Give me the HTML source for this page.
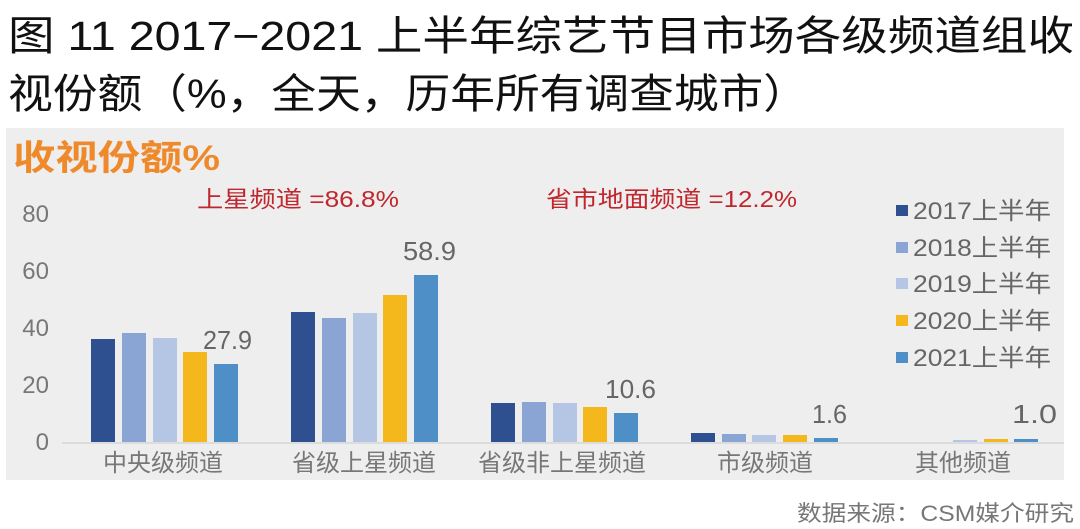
<!DOCTYPE html>
<html><head><meta charset="utf-8"><style>
html,body{margin:0;padding:0;background:#fff;}
svg{display:block;}
</style></head><body>
<svg width="1080" height="529" viewBox="0 0 1080 529" xmlns="http://www.w3.org/2000/svg" font-family="Liberation Sans, Noto Sans CJK SC, sans-serif">
<rect width="1080" height="529" fill="#fff"/>
<text x="8" y="50" font-size="41" fill="#111" textLength="1066" lengthAdjust="spacingAndGlyphs">图 11 2017−2021 上半年综艺节目市场各级频道组收</text>
<text x="8" y="108" font-size="41" fill="#111" textLength="800" lengthAdjust="spacingAndGlyphs">视份额（%，全天，历年所有调查城市）</text>
<rect x="6" y="128" width="1058" height="352" fill="#eeeeef"/>
<text x="13" y="170" font-size="35" font-weight="bold" fill="#ef8a2c" textLength="207" lengthAdjust="spacingAndGlyphs">收视份额%</text>
<text x="197" y="207" font-size="23" fill="#c0272d" textLength="202" lengthAdjust="spacingAndGlyphs">上星频道 =86.8%</text>
<text x="546" y="207" font-size="23" fill="#c0272d" textLength="251" lengthAdjust="spacingAndGlyphs">省市地面频道 =12.2%</text>
<g font-size="24" fill="#777" text-anchor="end">
<text x="49" y="222">80</text><text x="49" y="279">60</text><text x="49" y="336">40</text><text x="49" y="393">20</text><text x="49" y="450">0</text>
</g>
<line x1="62" y1="443" x2="1064" y2="443" stroke="#dcdcdc" stroke-width="2"/>
<g>
<rect x="91" y="339" width="24" height="103" fill="#2e5090"/>
<rect x="122" y="333" width="24" height="109" fill="#8aa5d3"/>
<rect x="153" y="338" width="24" height="104" fill="#b4c6e4"/>
<rect x="183" y="352" width="24" height="90" fill="#f4b81c"/>
<rect x="214" y="364" width="24" height="78" fill="#4f8fc8"/>

<rect x="291" y="312" width="24" height="130" fill="#2e5090"/>
<rect x="322" y="318" width="24" height="124" fill="#8aa5d3"/>
<rect x="353" y="313" width="24" height="129" fill="#b4c6e4"/>
<rect x="383" y="295" width="24" height="147" fill="#f4b81c"/>
<rect x="414" y="275" width="24" height="167" fill="#4f8fc8"/>

<rect x="491" y="403" width="24" height="39" fill="#2e5090"/>
<rect x="522" y="402" width="24" height="40" fill="#8aa5d3"/>
<rect x="553" y="403" width="24" height="39" fill="#b4c6e4"/>
<rect x="583" y="407" width="24" height="35" fill="#f4b81c"/>
<rect x="614" y="413" width="24" height="29" fill="#4f8fc8"/>

<rect x="691" y="433" width="24" height="9" fill="#2e5090"/>
<rect x="722" y="434" width="24" height="8" fill="#8aa5d3"/>
<rect x="752" y="435" width="24" height="7" fill="#b4c6e4"/>
<rect x="783" y="435" width="24" height="7" fill="#f4b81c"/>
<rect x="814" y="438" width="24" height="4" fill="#4f8fc8"/>

<rect x="953" y="440" width="24" height="2" fill="#b4c6e4"/>
<rect x="984" y="439" width="24" height="3" fill="#f4b81c"/>
<rect x="1014" y="439" width="24" height="3" fill="#4f8fc8"/>
</g>
<g font-size="26" fill="#666">
<text x="203" y="349" textLength="49" lengthAdjust="spacingAndGlyphs">27.9</text>
<text x="403" y="260" textLength="53" lengthAdjust="spacingAndGlyphs">58.9</text>
<text x="605" y="398" textLength="51" lengthAdjust="spacingAndGlyphs">10.6</text>
<text x="812" y="423" textLength="35" lengthAdjust="spacingAndGlyphs">1.6</text>
<text x="1012" y="423" textLength="45" lengthAdjust="spacingAndGlyphs">1.0</text>
</g>
<g font-size="24" fill="#777" text-anchor="middle">
<text x="163" y="471">中央级频道</text>
<text x="364" y="471">省级上星频道</text>
<text x="562" y="471">省级非上星频道</text>
<text x="765" y="471">市级频道</text>
<text x="963" y="471">其他频道</text>
</g>
<g font-size="24" fill="#666">
<rect x="896" y="205" width="12" height="11" fill="#2e5090"/><text x="913" y="219" textLength="138" lengthAdjust="spacingAndGlyphs">2017上半年</text>
<rect x="896" y="242" width="12" height="11" fill="#8aa5d3"/><text x="913" y="256" textLength="138" lengthAdjust="spacingAndGlyphs">2018上半年</text>
<rect x="896" y="278" width="12" height="11" fill="#b4c6e4"/><text x="913" y="292" textLength="138" lengthAdjust="spacingAndGlyphs">2019上半年</text>
<rect x="896" y="315" width="12" height="11" fill="#f4b81c"/><text x="913" y="329" textLength="138" lengthAdjust="spacingAndGlyphs">2020上半年</text>
<rect x="896" y="352" width="12" height="11" fill="#4f8fc8"/><text x="913" y="366" textLength="138" lengthAdjust="spacingAndGlyphs">2021上半年</text>
</g>
<text x="797" y="521" font-size="22" fill="#777" textLength="277" lengthAdjust="spacingAndGlyphs">数据来源：CSM媒介研究</text>
</svg>
</body></html>
